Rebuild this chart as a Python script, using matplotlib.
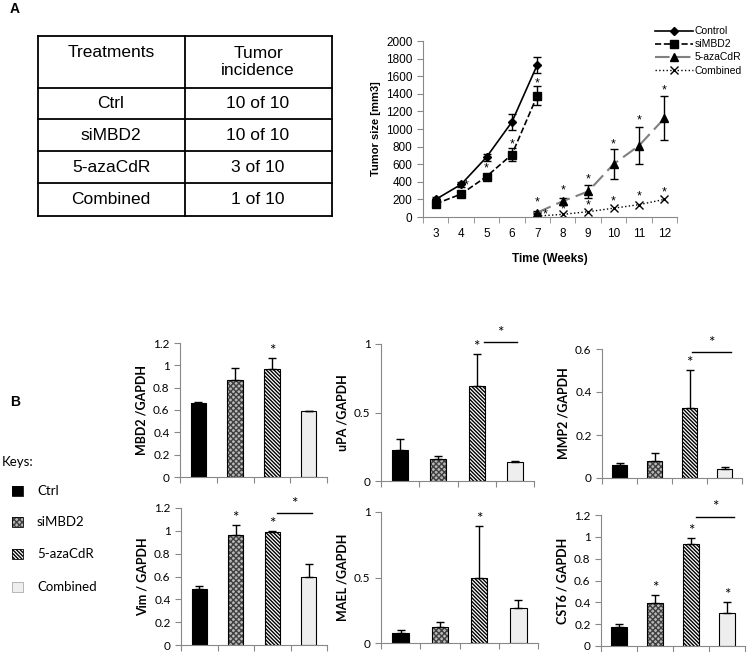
import numpy as np
import matplotlib
matplotlib.use('Agg')
import matplotlib.pyplot as plt
from matplotlib.patches import Rectangle
from matplotlib.ticker import FormatStrFormatter

# ---- data ----
treatments = ['Ctrl', 'siMBD2', '5-azaCdR', 'Combined']
incidence = ['10 of 10', '10 of 10', '3 of 10', '1 of 10']

weeks = [3, 4, 5, 6, 7, 8, 9, 10, 11, 12]
control = [200, 370, 680, 1080, 1730]
control_err = [25, 30, 40, 90, 90]
simbd2 = [150, 260, 460, 710, 1380]
simbd2_err = [20, 25, 30, 70, 110]
aza = [50, 180, 290, 600, 810, 1120]
aza_err = [20, 40, 70, 170, 210, 250]
combined = [10, 30, 60, 100, 140, 200]
# star positions (week, value)
stars_line = [(4.2, 360), (5, 555), (6, 830), (7, 1517),
              (7, 170), (8, 300), (9, 423), (10, 830), (11, 1094), (12, 1442),
              (7.3, 26), (8, 90), (9, 132), (10, 177), (11, 234), (12, 280)]

genes = ['MBD2 /GAPDH', 'uPA /GAPDH', 'MMP2 /GAPDH',
         'Vim / GAPDH', 'MAEL /GAPDH', 'CST6 / GAPDH']
mbd2 = [0.66, 0.87, 0.97, 0.59]
mbd2_err = [0.01, 0.11, 0.10, 0.005]
upa = [0.226, 0.16, 0.69, 0.136]
upa_err = [0.08, 0.02, 0.235, 0.01]
mmp2 = [0.061, 0.078, 0.324, 0.040]
mmp2_err = [0.01, 0.037, 0.18, 0.01]
vim = [0.489, 0.966, 0.992, 0.594]
vim_err = [0.03, 0.085, 0.01, 0.115]
mael = [0.079, 0.124, 0.50, 0.27]
mael_err = [0.021, 0.04, 0.39, 0.06]
cst6 = [0.177, 0.397, 0.934, 0.305]
cst6_err = [0.027, 0.067, 0.058, 0.10]

W, H = 747, 652


def box(l, t, r, b):
    return [l / W, 1 - b / H, (r - l) / W, (b - t) / H]


plt.rcParams['hatch.linewidth'] = 1.0
fig = plt.figure(figsize=(7.47, 6.52), dpi=100)
fig.patch.set_facecolor('white')

fig.text(10 / W, 1 - 9 / H, 'A', fontsize=10, fontweight='bold',
         family='Liberation Sans', va='center', ha='left')
fig.text(10 / W, 1 - 402 / H, 'B', fontsize=10, fontweight='bold',
         family='Liberation Sans', va='center', ha='left')

# ---- table ----
axt = fig.add_axes(box(38, 36, 332, 216))
axt.set_xlim(38, 332)
axt.set_ylim(216, 36)
axt.axis('off')
rows = [36, 88, 119, 151, 183, 216]
for yy in rows:
    axt.plot([38, 332], [yy, yy], color='black', lw=1.3, clip_on=False)
for xx in [38, 185, 332]:
    axt.plot([xx, xx], [36, 216], color='black', lw=1.3, clip_on=False)
tf = dict(fontsize=12.5, family='Liberation Sans', ha='center', va='center')
axt.text(111, 53, 'Treatments', **tf)
axt.text(258, 62, 'Tumor\nincidence', linespacing=1.15, **tf)
for i in range(4):
    yc = (rows[i + 1] + rows[i + 2]) / 2
    axt.text(111, yc, treatments[i], **tf)
    axt.text(258, yc, incidence[i], **tf)

# ---- line chart ----
axl = fig.add_axes(box(423, 41, 677, 217))
xpos = {w: i for i, w in enumerate(weeks)}
xc = [xpos[w] for w in weeks[:5]]
xa = [xpos[w] for w in weeks[4:]]
axl.errorbar(xc, control, yerr=control_err, fmt='none', ecolor='black',
             capsize=3, elinewidth=1)
axl.errorbar(xc, simbd2, yerr=simbd2_err, fmt='none', ecolor='black',
             capsize=3, elinewidth=1)
axl.errorbar(xa, aza, yerr=aza_err, fmt='none', ecolor='black',
             capsize=3, elinewidth=1)
h1, = axl.plot(xc, control, color='black', lw=1.2, marker='D', ms=4,
               label='Control')
h2, = axl.plot(xc, simbd2, color='black', lw=1.2, ls='--', marker='s', ms=5.5,
               label='siMBD2')
h3, = axl.plot(xa, aza, color='#808080', lw=1.5, dashes=(7, 3), marker='^',
               ms=5.5, mfc='black', mec='black', label='5-azaCdR')
h4, = axl.plot(xa, combined, color='black', lw=1, ls=':', marker='x', ms=5.5,
               mew=1, label='Combined')
for wx, v in stars_line:
    axl.text(wx - 3, v, '*', ha='center', va='center', fontsize=9,
             family='Liberation Sans')
axl.set_xlim(-0.5, 9.5)
axl.set_ylim(0, 2000)
axl.set_yticks(np.arange(0, 2001, 200))
axl.set_xticks(range(10))
axl.set_xticklabels([str(w) for w in weeks])
axl.set_xticks(np.arange(-0.5, 10, 1), minor=True)
axl.tick_params(axis='x', which='major', length=0, pad=8)
axl.tick_params(axis='x', which='minor', length=4, color='#888888', direction='out')
axl.tick_params(axis='y', length=4, color='#888888', direction='out')
for s in ['top', 'right']:
    axl.spines[s].set_visible(False)
for s in ['left', 'bottom']:
    axl.spines[s].set_color('#888888')
for lab in axl.get_xticklabels() + axl.get_yticklabels():
    lab.set_fontsize(8.5)
    lab.set_family('Liberation Sans')
axl.set_xlabel('Time (Weeks)', fontsize=8.5, fontweight='bold',
               family='Liberation Sans', labelpad=9)
axl.set_ylabel('Tumor size [mm3]', fontsize=8, fontweight='bold',
               family='Liberation Sans', labelpad=4)
fig.legend([h1, h2, h3, h4], ['Control', 'siMBD2', '5-azaCdR', 'Combined'],
           loc='upper left', bbox_to_anchor=(651 / W, 1 - 22 / H),
           frameon=False, handlelength=3.6, handletextpad=0.2, labelspacing=0.3,
           prop={'family': 'Liberation Sans', 'size': 7.5}, borderaxespad=0)

# ---- bar panels ----
panels = [
    (mbd2, mbd2_err, (180, 343, 327, 477), 1.2, 0.2, [2], None),
    (upa, upa_err, (381, 344, 534, 481), 1.0, 0.5, [2], (2.19, 3.06, 1.017)),
    (mmp2, mmp2_err, (602, 349, 742, 478), 0.6, 0.2, [2], (2.07, 3.19, 0.587)),
    (vim, vim_err, (181, 508, 327, 645), 1.2, 0.2, [1, 2], (2.13, 3.09, 1.158)),
    (mael, mael_err, (381, 512, 538, 643), 1.0, 0.5, [2], None),
    (cst6, cst6_err, (601, 515, 745, 646), 1.2, 0.2, [1, 2, 3], (2.14, 3.19, 1.186)),
]
faces = ['black', '#b8b8b8', 'white', '#eeeeee']
hatch_cols = ['black', '#404040', 'black', '#eeeeee']
hatches = [None, 'xxxxxx', '\\' * 9, None]
bfont = 'Lato'

for k, (vals, errs, (l, t, r, b), ymax, step, starred, bracket) in enumerate(panels):
    ax = fig.add_axes(box(l, t, r, b))
    x = np.arange(4)
    for i in range(4):
        ax.bar(x[i], vals[i], width=0.42, color=faces[i], edgecolor=hatch_cols[i],
               linewidth=0, hatch=hatches[i], zorder=2)
    ax.bar(x, vals, width=0.42, fill=False, edgecolor='black', linewidth=0.8,
           zorder=2.5)
    ax.errorbar(x, vals, yerr=[np.zeros(4), errs], fmt='none', ecolor='black',
                elinewidth=1, capsize=3, capthick=1, zorder=3)
    for i in starred:
        ax.annotate('*', (i, vals[i] + errs[i]), xytext=(0, 0),
                    textcoords='offset points', ha='center', va='bottom',
                    fontsize=11, family=bfont, annotation_clip=False)
    if bracket is not None:
        x0, x1, yb = bracket
        ax.plot([x0, x1], [yb, yb], color='black', lw=1, clip_on=False)
        ax.annotate('*', ((x0 + x1) / 2, yb), xytext=(0, 1.5),
                    textcoords='offset points', ha='center', va='bottom',
                    fontsize=11, family=bfont, annotation_clip=False)
    ax.set_xlim(-0.5, 3.5)
    ax.set_ylim(0, ymax)
    ax.set_yticks(np.arange(0, ymax + 1e-9, step))
    ax.yaxis.set_major_formatter(FormatStrFormatter('%g'))
    ax.set_xticks(np.arange(-0.5, 4, 1))
    ax.set_xticklabels([])
    ax.tick_params(axis='both', length=4, color='#888888', direction='out',
                   labelsize=8.5)
    for lab in ax.get_yticklabels():
        lab.set_family(bfont)
    for s in ['top', 'right']:
        ax.spines[s].set_visible(False)
    for s in ['left', 'bottom']:
        ax.spines[s].set_color('#888888')
    ax.set_ylabel(genes[k], fontsize=9, fontweight='bold', family=bfont,
                  labelpad=4)

# ---- keys ----
axk = fig.add_axes(box(0, 440, 160, 610))
axk.set_xlim(0, 160)
axk.set_ylim(610, 440)
axk.axis('off')
axk.text(2, 462, 'Keys:', fontsize=9.5, family=bfont, va='center', ha='left')
key_y = [491, 522, 554, 587]
for i in range(4):
    axk.add_patch(Rectangle((12, key_y[i] - 5), 11, 10, facecolor=faces[i],
                            edgecolor=hatch_cols[i], lw=0, hatch=hatches[i]))
    axk.add_patch(Rectangle((12, key_y[i] - 5), 11, 10, fill=False,
                            edgecolor='black' if i < 3 else '#aaaaaa', lw=0.6))
    axk.text(37, key_y[i], treatments[i], fontsize=9.5, family=bfont,
             va='center', ha='left')

fig.savefig('out.png', dpi=100)
